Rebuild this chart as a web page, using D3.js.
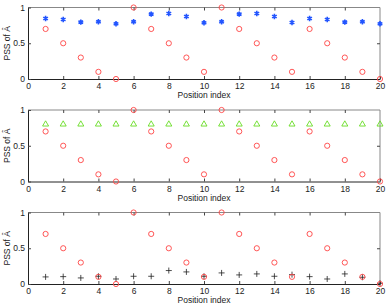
<!DOCTYPE html>
<html>
<head>
<meta charset="utf-8">
<script src="https://cdn.jsdelivr.net/npm/d3@7"></script>
<style>
  body { margin: 0; background: #fff; }
  text { font-family: "Liberation Sans", Arial, sans-serif; fill: #222; }
</style>
</head>
<body>
<div id="plot"></div>
<script>
var positions = d3.range(1, 21);
var pssRed = [0.7, 0.5, 0.3, 0.1, 0, 1, 0.7, 0.5, 0.3, 0.1, 1, 0.7, 0.5, 0.3, 0.1, 0.7, 0.5, 0.3, 0.1, 0];
var pssBlue = [0.847, 0.833, 0.795, 0.80, 0.772, 0.80, 0.907, 0.916, 0.874, 0.786, 0.80, 0.907, 0.916, 0.874, 0.79, 0.847, 0.833, 0.795, 0.80, 0.772];
var pssGreen = [0.8, 0.8, 0.8, 0.8, 0.8, 0.8, 0.8, 0.8, 0.8, 0.8, 0.8, 0.8, 0.8, 0.8, 0.8, 0.8, 0.8, 0.8, 0.8, 0.8];
var pssBlack = [0.099, 0.103, 0.085, 0.108, 0.07, 0.108, 0.108, 0.188, 0.169, 0.108, 0.155, 0.127, 0.141, 0.108, 0.131, 0.103, 0.07, 0.141, 0.094, 0.01];
var xTicks = [0, 2, 4, 6, 8, 10, 12, 14, 16, 18, 20];
var yTicks = [0, 0.5, 1];

var svg = d3.select("#plot")
            .append("svg")
            .attr("width", 388)
            .attr("height", 306);

var view = { left: 28, right: 380, h: 71.5, tops: [7.5, 110, 212.5] };

var xScale = d3.scaleLinear().domain([0, 20]).range([view.left, view.right]);

var panels = [
    { other: pssBlue, type: "star", color: "#2255ff" },
    { other: pssGreen, type: "tri", color: "#66dd22" },
    { other: pssBlack, type: "plus", color: "#222" }
];

panels.forEach(function(p, k){
    var top = view.tops[k];
    var yScale = d3.scaleLinear().domain([0, 1]).range([top + view.h, top]);
    var g = svg.append("g");

    // box
    g.append("line").attr("x1", view.left).attr("x2", view.right).attr("y1", top).attr("y2", top)
        .style("stroke", "#888").style("stroke-width", 1);
    g.append("line").attr("x1", view.right).attr("x2", view.right).attr("y1", top).attr("y2", top + view.h)
        .style("stroke", "#888").style("stroke-width", 1);

    var xAxis = d3.axisBottom(xScale).tickValues(xTicks).tickSizeInner(-3).tickSizeOuter(0).tickPadding(4);
    var gx = g.append("g").attr("transform", "translate(0," + (top + view.h) + ")").call(xAxis);
    var xTop = d3.axisTop(xScale).tickValues(xTicks.slice(1, 10)).tickSizeInner(-3).tickSizeOuter(0).tickFormat("");
    var gxt = g.append("g").attr("transform", "translate(0," + top + ")").call(xTop);
    gxt.select(".domain").remove();

    var yAxis = d3.axisLeft(yScale).tickValues(yTicks).tickSizeInner(-3).tickSizeOuter(0).tickPadding(3).tickFormat(d3.format("~g"));
    var gy = g.append("g").attr("transform", "translate(" + view.left + ",0)").call(yAxis);
    var yRight = d3.axisRight(yScale).tickValues([0.5]).tickSizeInner(-3).tickSizeOuter(0).tickFormat("");
    var gyr = g.append("g").attr("transform", "translate(" + view.right + ",0)").call(yRight);
    gyr.select(".domain").remove();

    [gx, gy, gxt, gyr].forEach(function(a){
        a.selectAll("text").style("font-size", "8.5px").style("fill", "#222")
            .style("font-family", "'Liberation Sans', Arial, sans-serif");
        a.selectAll("line").style("stroke", "#444");
    });
    gx.select(".domain").style("stroke", "#222");
    gy.select(".domain").style("stroke", "#222");

    g.append("text")
        .attr("x", (view.left + view.right) / 2)
        .attr("y", top + view.h + 19)
        .attr("text-anchor", "middle")
        .style("font-size", "8.5px")
        .text("Position index");

    g.append("text")
        .attr("transform", "translate(9.5," + (top + view.h / 2) + ") rotate(-90)")
        .attr("text-anchor", "middle")
        .style("font-size", "8.5px")
        .text("PSS of Â");

    // second series
    var sym;
    if (p.type === "star") sym = d3.symbol().type(d3.symbolAsterisk).size(20);
    else sym = d3.symbol().type(d3.symbolTriangle2).size(26);

    if (p.type === "plus") {
        g.selectAll(".plus")
            .data(positions)
            .enter().append("path")
            .attr("class", "plus")
            .attr("transform", function(d, i){ return "translate(" + xScale(d) + "," + yScale(p.other[i]) + ")"; })
            .attr("d", "M-3,0H3M0,-3V3")
            .style("fill", "none")
            .style("stroke", p.color)
            .style("stroke-width", 0.8);
    } else {
        g.selectAll(".other")
            .data(positions)
            .enter().append("path")
            .attr("class", "other")
            .attr("transform", function(d, i){ return "translate(" + xScale(d) + "," + yScale(p.other[i]) + ")"; })
            .attr("d", sym)
            .style("fill", "none")
            .style("stroke", p.color)
            .style("stroke-width", p.type === "star" ? 1.6 : 0.9);
    }

    // red circles
    g.selectAll(".red")
        .data(positions)
        .enter().append("circle")
        .attr("class", "red")
        .attr("cx", function(d){ return xScale(d); })
        .attr("cy", function(d, i){ return yScale(pssRed[i]); })
        .attr("r", 2.6)
        .style("fill", "none")
        .style("stroke", "#ff4444")
        .style("stroke-width", 0.9);
});
</script>
</body>
</html>
